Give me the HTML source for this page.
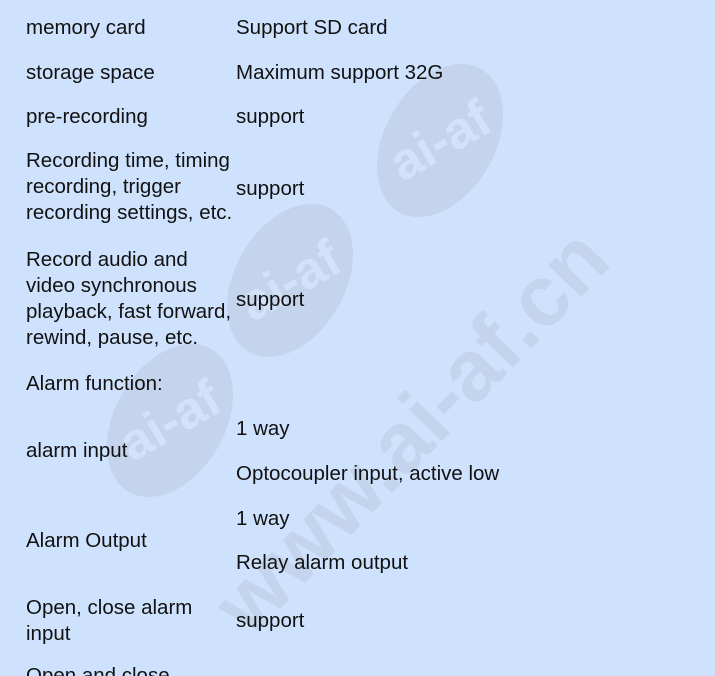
<!DOCTYPE html>
<html><head><meta charset="utf-8"><style>
html,body{margin:0;padding:0;overflow:hidden}
body{width:715px;height:676px;background:#cfe2fd;position:relative;overflow:hidden;font-family:"Liberation Sans","DejaVu Sans",sans-serif;font-size:20.5px;color:#111}
.t{position:absolute;line-height:26px;white-space:nowrap}
.el{position:absolute;width:110px;height:165px;border-radius:50%;background:#c3d4ec;display:flex;align-items:center;justify-content:center}
.el span{transform:rotate(-60deg);color:#d3e2f8;font-size:52px;font-weight:bold;white-space:nowrap}
.wm{position:absolute;color:#c3d4ec;font-size:86px;font-weight:bold;white-space:nowrap;transform-origin:left center}
</style></head><body>
<div class="el" style="left:385px;top:58px;transform:rotate(30deg)"><span>ai-af</span></div>
<div class="el" style="left:235px;top:198px;transform:rotate(30deg)"><span>ai-af</span></div>
<div class="el" style="left:115px;top:338px;transform:rotate(30deg)"><span>ai-af</span></div>
<div class="wm" style="left:230px;top:570px;transform:rotate(-46deg)">www.ai-af.cn</div>

<div class="t" style="left:26px;top:15px">memory card</div>
<div class="t" style="left:236px;top:15px">Support SD card</div>
<div class="t" style="left:26px;top:60px">storage space</div>
<div class="t" style="left:236px;top:60px">Maximum support 32G</div>
<div class="t" style="left:26px;top:104px">pre-recording</div>
<div class="t" style="left:236px;top:104px">support</div>
<div class="t" style="left:26px;top:148px">Recording time, timing<br>recording, trigger<br>recording settings, etc.</div>
<div class="t" style="left:236px;top:176px">support</div>
<div class="t" style="left:26px;top:247px">Record audio and<br>video synchronous<br>playback, fast forward,<br>rewind, pause, etc.</div>
<div class="t" style="left:236px;top:287px">support</div>
<div class="t" style="left:26px;top:371px">Alarm function:</div>
<div class="t" style="left:26px;top:438px">alarm input</div>
<div class="t" style="left:236px;top:416px">1 way</div>
<div class="t" style="left:236px;top:461px">Optocoupler input, active low</div>
<div class="t" style="left:26px;top:528px">Alarm Output</div>
<div class="t" style="left:236px;top:506px">1 way</div>
<div class="t" style="left:236px;top:550px">Relay alarm output</div>
<div class="t" style="left:26px;top:595px">Open, close alarm<br>input</div>
<div class="t" style="left:236px;top:608px">support</div>
<div class="t" style="left:26px;top:663px">Open and close</div>
</body></html>
